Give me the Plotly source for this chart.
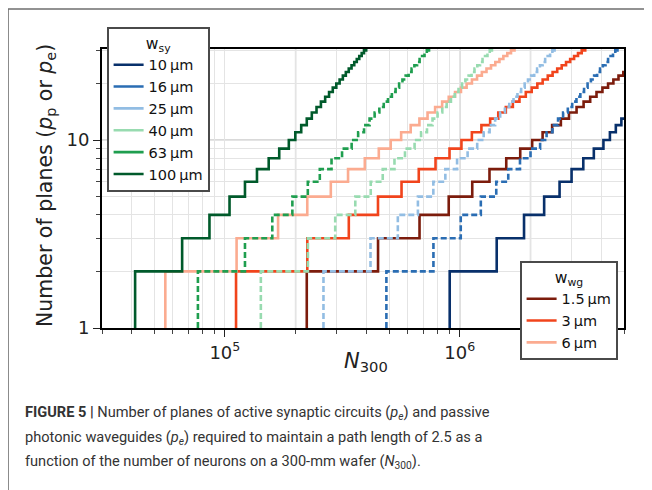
import math
import plotly.graph_objects as go

# ---------------- data ----------------
# number of planes reached at each threshold N (step value after the threshold)
planes = [2, 3, 4, 5, 6, 7, 8, 9, 10, 11, 12, 13, 14, 15, 16, 17, 18, 19, 20,
          21, 22, 23, 24, 25, 26, 27, 28, 29, 30, 31]

# synaptic-circuit width series (w_sy): N300 at which p increases
N_sy_100 = [41500, 65800, 86000, 104700, 121800, 137000, 153700, 170400, 187200,
            199500, 211400, 223200, 234500, 245600, 256400, 267300, 277700, 288000,
            298100, 308000, 317900, 327300, 336800, 346200, 355500, 364400, 373400,
            382400, 391100, 399600]
N_sy_63 = [76800, 121800, 159200, 193800, 225500, 253600, 284500, 315400, 346500,
           369300, 391300, 413100, 434100, 454600, 474600, 494800, 514000, 533100,
           551800, 570100, 588400, 605800, 623400, 640800, 658000, 674500, 691200,
           707800, 723900, 739700]
N_sy_40 = [142300, 225700, 295000, 359100, 417800, 469900, 527200, 584500, 642100,
           684300, 725100, 765600, 804300, 842400, 879500, 916800, 952500, 987800,
           1022500, 1056400, 1090400, 1122600, 1155200, 1187500, 1219400, 1249900,
           1280800, 1311600, 1341500, 1370600]
N_sy_25 = [262900, 416900, 544900, 663400, 771700, 868000, 973800, 1079700, 1186100,
           1264000, 1339400, 1414200, 1485800, 1556100, 1624500, 1693600, 1759500,
           1824800, 1888800, 1951500, 2014200, 2073800, 2134000, 2193500, 2252400,
           2308800, 2365900, 2422900, 2478000, 2531900]
N_sy_16 = [487100, 772400, 1009500, 1229000, 1429700, 1608100, 1804100, 2000200,
           2197300, 2341700, 2481400, 2619900, 2752600, 2882900, 3009600, 3137600,
           3259600, 3380500, 3499100, 3615300, 3731500, 3841900, 3953400, 4063700,
           4172900, 4277300, 4383000, 4488600, 4590700, 4690500]
N_sy_10 = [906000, 1436000, 1877000, 2286000, 2659000, 2991000, 3355000, 3720000,
           4087000, 4355000, 4615000, 4873000, 5119000, 5361000]

# waveguide width series (w_wg)
N_wg_6 = [55800, 112200, 168500, 224300, 282500, 334500, 394200, 452100, 508200,
          562900, 618000, 673300, 729100, 785200, 841200, 897400, 954800, 1011800,
          1069300, 1126400, 1184400, 1241700, 1299200, 1357900, 1416700, 1474900,
          1532800, 1592900, 1652000, 1709600]
N_wg_3 = [111600, 224400, 337000, 448600, 565000, 669000, 788400, 904200, 1016400,
          1125800, 1236000, 1346600, 1458200, 1570400, 1682400, 1794800, 1909600,
          2023600, 2138600, 2252800, 2368800, 2483400, 2598400, 2715800, 2833400,
          2949800, 3065600, 3185800, 3304000, 3419200]
N_wg_15 = [223200, 448800, 674000, 897200, 1130000, 1338000, 1576800, 1808400,
           2032800, 2251600, 2472000, 2693200, 2916400, 3140800, 3364800, 3589600,
           3819200, 4047200, 4277200, 4505600, 4737600, 4966800, 5196800]

sy_labels = ["10\u2009\u00b5m", "16\u2009\u00b5m", "25\u2009\u00b5m",
             "40\u2009\u00b5m", "63\u2009\u00b5m", "100\u2009\u00b5m"]
sy_series = [N_sy_10, N_sy_16, N_sy_25, N_sy_40, N_sy_63, N_sy_100]
sy_colors = ["#08306b", "#2a6db3", "#92bde3", "#98dbb0", "#1f9e4f", "#005a2b"]
sy_dash = ["solid", "dash", "dash", "dash", "dash", "solid"]

wg_labels = ["1.5\u2009\u00b5m", "3\u2009\u00b5m", "6\u2009\u00b5m"]
wg_series = [N_wg_15, N_wg_3, N_wg_6]
wg_colors = ["#7c1c0c", "#f1441c", "#fbab90"]

x_major = [1e5, 1e6]
x_major_text = ["10<sup>5</sup>", "10<sup>6</sup>"]
x_minor = [3e4, 4e4, 5e4, 6e4, 7e4, 8e4, 9e4, 1e5, 2e5, 3e5, 4e5, 5e5, 6e5, 7e5,
           8e5, 9e5, 1e6, 2e6, 3e6, 4e6, 5e6]
x_dark_grid = [2e5, 1e6, 2e6]
y_major = [1, 10]
y_minor = [2, 3, 4, 5, 6, 7, 8, 9, 10, 20, 30]
y_dark_grid = [10]
x_range = [3e4, 5e6]
y_range = [1, 30.5]

# ---------------- figure ----------------
# the page body has an 8px margin, so the figure is drawn 8px smaller/shifted
OFF = 8
W, H = 652 - OFF, 490 - OFF
L, R, T, B = 102, 624, 49, 328          # plot area in page pixels
pw, ph = R - L, B - T


def px(xp):
    return (xp - L) / pw


def py(yp):
    return (B - yp) / ph


FONT = "DejaVu Sans"
fig = go.Figure()


def stair(N):
    xs = [N[0]] + list(N)
    ys = [1] + planes[:len(N)]
    return xs, ys


for N, c in zip(wg_series, wg_colors):
    xs, ys = stair(N)
    fig.add_trace(go.Scatter(x=xs, y=ys, mode="lines", line_shape="hv",
                             line=dict(color=c, width=2.6), showlegend=False,
                             hoverinfo="skip"))
for N, c, d in zip(sy_series, sy_colors, sy_dash):
    xs, ys = stair(N)
    fig.add_trace(go.Scatter(x=xs, y=ys, mode="lines", line_shape="hv",
                             line=dict(color=c, width=2.6,
                                       dash="solid" if d == "solid" else "6px,3px"),
                             showlegend=False, hoverinfo="skip"))

# legend entries (solid samples as in the original)
for lab, c in zip(sy_labels, sy_colors):
    fig.add_trace(go.Scatter(x=[None], y=[None], mode="lines", name=lab,
                             line=dict(color=c, width=2.6), legend="legend"))
for lab, c in zip(wg_labels, wg_colors):
    fig.add_trace(go.Scatter(x=[None], y=[None], mode="lines", name=lab,
                             line=dict(color=c, width=2.6), legend="legend2"))

shapes = []
for v in x_dark_grid:
    shapes.append(dict(type="line", xref="x", yref="paper", x0=v, x1=v, y0=0, y1=1,
                       layer="below", line=dict(color="#b4b4b4", width=1.3)))
for v in y_dark_grid:
    shapes.append(dict(type="line", xref="paper", yref="y", x0=0, x1=1, y0=v, y1=v,
                       layer="below", line=dict(color="#b4b4b4", width=1.3)))
# outer frame of the figure panel
shapes.append(dict(type="line", xref="paper", yref="paper", x0=px(8), x1=px(8),
                   y0=py(9), y1=py(500), line=dict(color="#6e6e6e", width=1.6)))
shapes.append(dict(type="line", xref="paper", yref="paper", x0=px(8), x1=px(660),
                   y0=py(9), y1=py(9), line=dict(color="#6e6e6e", width=1.6)))

axis_common = dict(type="log", showgrid=False, ticks="outside", ticklen=7,
                   tickwidth=1.3, tickcolor="#222", showline=True, mirror=True,
                   linecolor="black", linewidth=2, zeroline=False,
                   tickfont=dict(family=FONT, size=18, color="#222"))

LEG_FONT = dict(family=FONT, size=14.5, color="#111")
LEG_TITLE_FONT = dict(family=FONT, size=15.5, color="#111")
fig.update_layout(
    width=W, height=H,
    margin=dict(l=L - OFF, r=W - (R - OFF), t=T - OFF, b=H - (B - OFF),
                autoexpand=False),
    paper_bgcolor="white", plot_bgcolor="white",
    xaxis=dict(range=[math.log10(x_range[0]), math.log10(x_range[1])],
               tickvals=x_major, ticktext=x_major_text,
               minor=dict(tickvals=x_minor, ticks="outside", ticklen=4,
                          tickwidth=1, tickcolor="#444", showgrid=True,
                          gridcolor="#e4e4e4", gridwidth=1),
               **axis_common),
    yaxis=dict(range=[math.log10(y_range[0]), math.log10(y_range[1])],
               tickvals=y_major, ticktext=["1", "10"],
               minor=dict(tickvals=y_minor, ticks="outside", ticklen=4,
                          tickwidth=1, tickcolor="#444", showgrid=True,
                          gridcolor="#e4e4e4", gridwidth=1),
               **axis_common),
    legend=dict(title=dict(text="w<sub>sy</sub>", side="top center",
                           font=LEG_TITLE_FONT),
                x=px(107), y=py(27), xanchor="left", yanchor="top",
                bgcolor="white", bordercolor="#4a4a4a", borderwidth=1.6,
                font=LEG_FONT, tracegroupgap=0, itemwidth=30),
    legend2=dict(title=dict(text="w<sub>wg</sub>", side="top center",
                            font=LEG_TITLE_FONT),
                 x=px(520), y=py(261), xanchor="left", yanchor="top",
                 bgcolor="white", bordercolor="#4a4a4a", borderwidth=1.6,
                 font=LEG_FONT, tracegroupgap=0, itemwidth=30),
    shapes=shapes,
    showlegend=True,
)

ann = []
ann.append(dict(text="Number of planes (<i>p</i><sub>p</sub> or <i>p</i><sub>e</sub>)",
                xref="paper", yref="paper", x=px(46), y=py(186), textangle=-90,
                xanchor="center", yanchor="middle", showarrow=False,
                font=dict(family=FONT, size=20.5, color="#222")))
ann.append(dict(text="<i>N</i><sub>300</sub>", xref="paper", yref="paper",
                x=px(366), y=py(362), xanchor="center", yanchor="middle",
                showarrow=False, font=dict(family=FONT, size=21, color="#222")))
CAP = "Roboto, sans-serif"
cap_lines = [
    "<b>FIGURE 5 |</b> Number of planes of active synaptic circuits (<i>p<sub>e</sub></i>) and passive",
    "photonic waveguides (<i>p<sub>e</sub></i>) required to maintain a path length of 2.5 as a",
    "function of the number of neurons on a 300-mm wafer (<i>N</i><sub>300</sub>).",
]
for t, yc in zip(cap_lines, [413, 437, 461]):
    ann.append(dict(text=t, xref="paper", yref="paper", x=px(23), y=py(yc),
                    xanchor="left", yanchor="middle", showarrow=False,
                    font=dict(family=CAP, size=14.6, color="#333")))
fig.update_layout(annotations=ann)

fig.write_html("out.html")
